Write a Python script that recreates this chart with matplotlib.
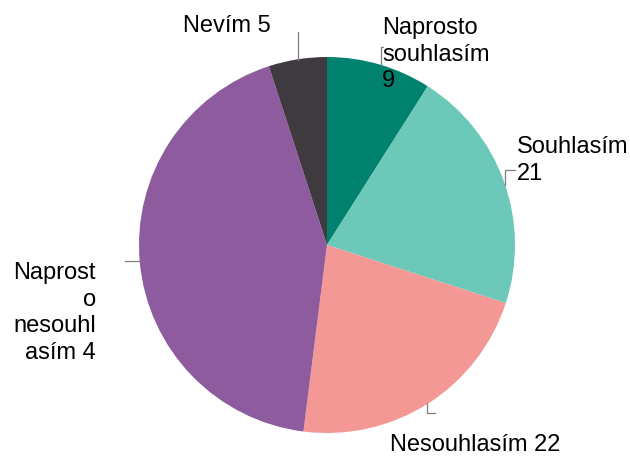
import matplotlib.pyplot as plt

plt.rcParams['font.family'] = ['Liberation Sans', 'DejaVu Sans']

# data (clockwise from 12 o'clock)
categories = ['Naprosto souhlasím', 'Souhlasím', 'Nesouhlasím', 'Naprosto nesouhlasím', 'Nevím']
values = [9, 21, 22, 43, 5]
labels = ['Naprosto\nsouhlasím\n9', 'Souhlasím\n21', 'Nesouhlasím 22',
          'Naprost\no\nnesouhl\nasím 4', 'Nevím 5']
colors = ['#00826f', '#6cc8b8', '#f49896', '#8d5b9e', '#3f3a3f']

W, H = 630, 457
CX, CY, R = 327, 245, 188


def px(x, y):
    # pixel position -> data coords (pie radius = 1)
    return (x - CX) / R, (CY - y) / R


fig = plt.figure(figsize=(W / 100, H / 100), dpi=100)
ax = fig.add_axes([0, 0, 1, 1])
ax.pie(values, colors=colors, startangle=90, counterclock=False, radius=1,
       wedgeprops=dict(linewidth=0))
ax.set_xlim(-CX / R, (W - CX) / R)
ax.set_ylim(-(H - CY) / R, CY / R)
ax.set_aspect('equal')
ax.axis('off')

# label positions: (x, y, ha) in pixels
label_pos = [(382, 17, 'left'), (517, 136, 'left'), (390, 434, 'left'),
             (96, 262, 'right'), (183, 15, 'left')]
for lab, (x, y, ha) in zip(labels, label_pos):
    tx, ty = px(x, y)
    ax.text(tx, ty, lab, ha=ha, va='top', fontsize=17, linespacing=1.27,
            multialignment=ha, color='#000000')

# leader lines
leaders = [
    [(383, 47), (381, 47), (381, 65)],
    [(515, 170), (505, 170), (505, 185)],
    [(427, 403), (427, 413), (435, 413)],
    [(125, 261), (140, 261)],
    [(298, 32), (298, 60)],
]
for pts in leaders:
    xs, ys = zip(*[px(x, y) for x, y in pts])
    ax.plot(xs, ys, color='#7f7f7f', linewidth=0.9)

fig.savefig('out.png', dpi=100)
